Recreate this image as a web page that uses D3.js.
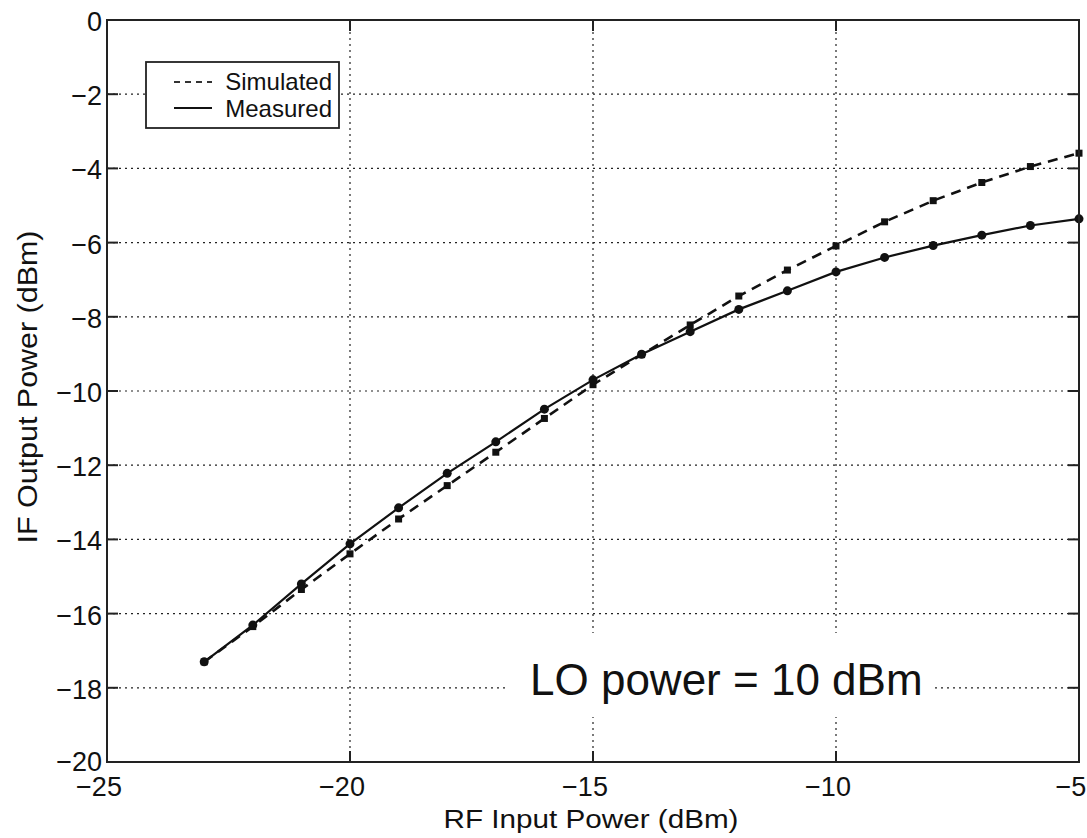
<!DOCTYPE html>
<html><head><meta charset="utf-8">
<script src="https://cdn.jsdelivr.net/npm/d3@7"></script>
<style>body{margin:0;background:#fff}svg{display:block}text{font-family:Arial,"Liberation Sans",Helvetica,sans-serif;fill:#111}</style>
</head><body><svg id="c" width="1087" height="838"></svg>
<script>
const rfInput = [-23,-22,-21,-20,-19,-18,-17,-16,-15,-14,-13,-12,-11,-10,-9,-8,-7,-6,-5];
const simulated = [-17.30,-16.35,-15.35,-14.39,-13.45,-12.55,-11.65,-10.74,-9.83,-9.02,-8.22,-7.44,-6.74,-6.09,-5.44,-4.87,-4.38,-3.95,-3.59];
const measured = [-17.30,-16.31,-15.20,-14.12,-13.15,-12.22,-11.37,-10.49,-9.70,-9.01,-8.40,-7.80,-7.30,-6.79,-6.40,-6.08,-5.80,-5.54,-5.36];
const xTicks = [-25,-20,-15,-10,-5];
const yTicks = [0,-2,-4,-6,-8,-10,-12,-14,-16,-18,-20];
const legendLabels = ["Simulated","Measured"];
const annotation = "LO power = 10 dBm";

const svg = d3.select("#c");
const L=107, R=1079, T=20, B=762;
const x = d3.scaleLinear().domain([-25,-5]).range([L,R]);
const y = d3.scaleLinear().domain([-20,0]).range([B,T]);
const fmt = v => v<0 ? "\u2212"+Math.abs(v) : String(v);

// grid
const grid = svg.append("g").attr("stroke","#222").attr("stroke-width",1.2).attr("stroke-dasharray","2,4");
grid.selectAll("line.gx").data(xTicks.slice(1,-1)).join("line")
  .attr("x1",d=>x(d)).attr("x2",d=>x(d)).attr("y1",T).attr("y2",B);
grid.selectAll("line.gy").data(yTicks.slice(1,-1)).join("line")
  .attr("y1",d=>y(d)).attr("y2",d=>y(d)).attr("x1",L).attr("x2",R);

// ticks on all sides (inward)
const tk = svg.append("g").attr("stroke","#222").attr("stroke-width",2);
xTicks.forEach(v=>{
  tk.append("line").attr("x1",x(v)).attr("x2",x(v)).attr("y1",B).attr("y2",B-11);
  tk.append("line").attr("x1",x(v)).attr("x2",x(v)).attr("y1",T).attr("y2",T+11);
});
yTicks.forEach(v=>{
  tk.append("line").attr("y1",y(v)).attr("y2",y(v)).attr("x1",L).attr("x2",L+11);
  tk.append("line").attr("y1",y(v)).attr("y2",y(v)).attr("x1",R).attr("x2",R-11);
});

// tick labels
svg.append("g").selectAll("text").data(xTicks).join("text")
  .attr("x",d=>x(d)-8).attr("y",B+34).attr("text-anchor","middle")
  .attr("font-size",27).text(fmt);
svg.append("g").selectAll("text").data(yTicks).join("text")
  .attr("x",L-5).attr("y",d=>y(d)+(d===-20?9:11)).attr("text-anchor","end")
  .attr("font-size",27).text(fmt);

// axis titles
svg.append("text").attr("x",591).attr("y",828).attr("text-anchor","middle")
  .attr("font-size",26).attr("textLength",295).attr("lengthAdjust","spacingAndGlyphs")
  .text("RF Input Power (dBm)");
svg.append("text").attr("transform","translate(37,387) rotate(-90)").attr("text-anchor","middle")
  .attr("font-size",27).attr("textLength",313).attr("lengthAdjust","spacingAndGlyphs")
  .text("IF Output Power (dBm)");

// data
const pts = (vals)=> rfInput.map((d,i)=>[d,vals[i]]);
const line = d3.line().x(d=>x(d[0])).y(d=>y(d[1]));
svg.append("path").datum(pts(simulated)).attr("d",line).attr("fill","none")
  .attr("stroke","#111").attr("stroke-width",2.6).attr("stroke-dasharray","10,7");
svg.append("g").selectAll("rect").data(pts(simulated)).join("rect")
  .attr("x",d=>x(d[0])-3.5).attr("y",d=>y(d[1])-3.5).attr("width",7).attr("height",7).attr("fill","#111");
svg.append("path").datum(pts(measured)).attr("d",line).attr("fill","none")
  .attr("stroke","#111").attr("stroke-width",2.2);
svg.append("g").selectAll("circle").data(pts(measured)).join("circle")
  .attr("cx",d=>x(d[0])).attr("cy",d=>y(d[1])).attr("r",4.5).attr("fill","#111");

// frame
svg.append("rect").attr("x",L).attr("y",T).attr("width",R-L).attr("height",B-T)
  .attr("fill","none").attr("stroke","#222").attr("stroke-width",2);

// legend
const lg = svg.append("g");
lg.append("rect").attr("x",146).attr("y",62).attr("width",193).attr("height",66)
  .attr("fill","#fff").attr("stroke","#222").attr("stroke-width",1.8);
lg.append("line").attr("x1",174).attr("x2",212).attr("y1",82).attr("y2",82)
  .attr("stroke","#333").attr("stroke-width",2).attr("stroke-dasharray","6,5");
lg.append("line").attr("x1",174).attr("x2",212).attr("y1",108).attr("y2",108)
  .attr("stroke","#111").attr("stroke-width",2);
lg.selectAll("text").data(legendLabels).join("text")
  .attr("x",332).attr("y",(d,i)=>90+i*27).attr("text-anchor","end")
  .attr("font-size",24).text(d=>d);

// annotation
svg.append("rect").attr("x",507).attr("y",633).attr("width",428).attr("height",84).attr("fill","#fff");
svg.append("text").attr("x",530).attr("y",695).attr("font-size",44).attr("fill","#000").text(annotation);
</script></body></html>
